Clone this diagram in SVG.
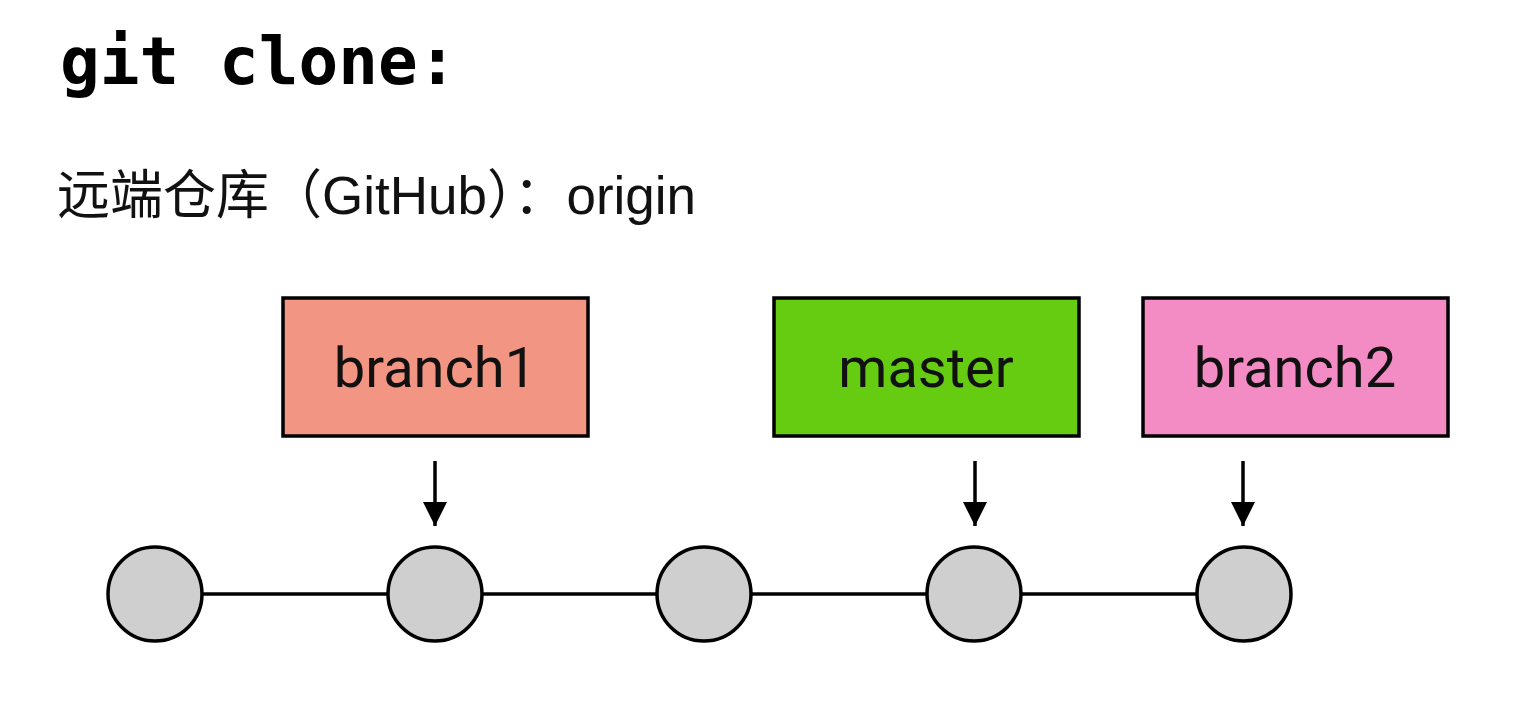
<svg xmlns="http://www.w3.org/2000/svg" width="1522" height="716" viewBox="0 0 1522 716">
<style>
.title{font-family:"DejaVu Sans Mono","Liberation Mono",monospace;font-weight:bold;font-size:66px;fill:#000}
.sub{font-family:"Liberation Sans","Noto Sans CJK SC",sans-serif;font-size:53px;fill:#111}
.box{stroke:#000;stroke-width:3.5}
.lbl{font-family:Roboto,"Liberation Sans",sans-serif;font-size:56px;fill:#111;text-anchor:middle}
.commit{fill:#cfcfcf;stroke:#000;stroke-width:3.5}
.edge{stroke:#000;stroke-width:3.5;fill:none}
.ptr{stroke:#000;stroke-width:3.5;fill:none}
</style>
<defs>
<marker id="ah" viewBox="0 0 10 10" refX="10" refY="5" markerWidth="7" markerHeight="7" markerUnits="strokeWidth" orient="auto">
<path d="M0,0 L10,5 L0,10 Z" fill="#000"/>
</marker>
</defs>
<rect width="1522" height="716" fill="#fff"/>
<text class="title" x="60" y="84">git clone:</text>
<text class="sub" x="57" y="214">远端仓库（GitHub）：origin</text>
<g id="connectors">
<line class="edge" x1="155" y1="594" x2="1244" y2="594"/>
<line class="ptr" x1="435" y1="461" x2="435" y2="526" marker-end="url(#ah)"/>
<line class="ptr" x1="975" y1="461" x2="975" y2="526" marker-end="url(#ah)"/>
<line class="ptr" x1="1243" y1="461" x2="1243" y2="526" marker-end="url(#ah)"/>
</g>
<g id="branch1"><rect class="box" x="283" y="298" width="305" height="138" fill="#F29582"/><text class="lbl" x="435" y="387">branch1</text></g>
<g id="master"><rect class="box" x="774" y="298" width="305" height="138" fill="#66CC11"/><text class="lbl" x="926" y="387">master</text></g>
<g id="branch2"><rect class="box" x="1143" y="298" width="305" height="138" fill="#F38BC4"/><text class="lbl" x="1295" y="387">branch2</text></g>
<g id="c1"><circle class="commit" cx="155" cy="594" r="47"/></g>
<g id="c2"><circle class="commit" cx="435" cy="594" r="47"/></g>
<g id="c3"><circle class="commit" cx="704" cy="594" r="47"/></g>
<g id="c4"><circle class="commit" cx="974" cy="594" r="47"/></g>
<g id="c5"><circle class="commit" cx="1244" cy="594" r="47"/></g>
</svg>
